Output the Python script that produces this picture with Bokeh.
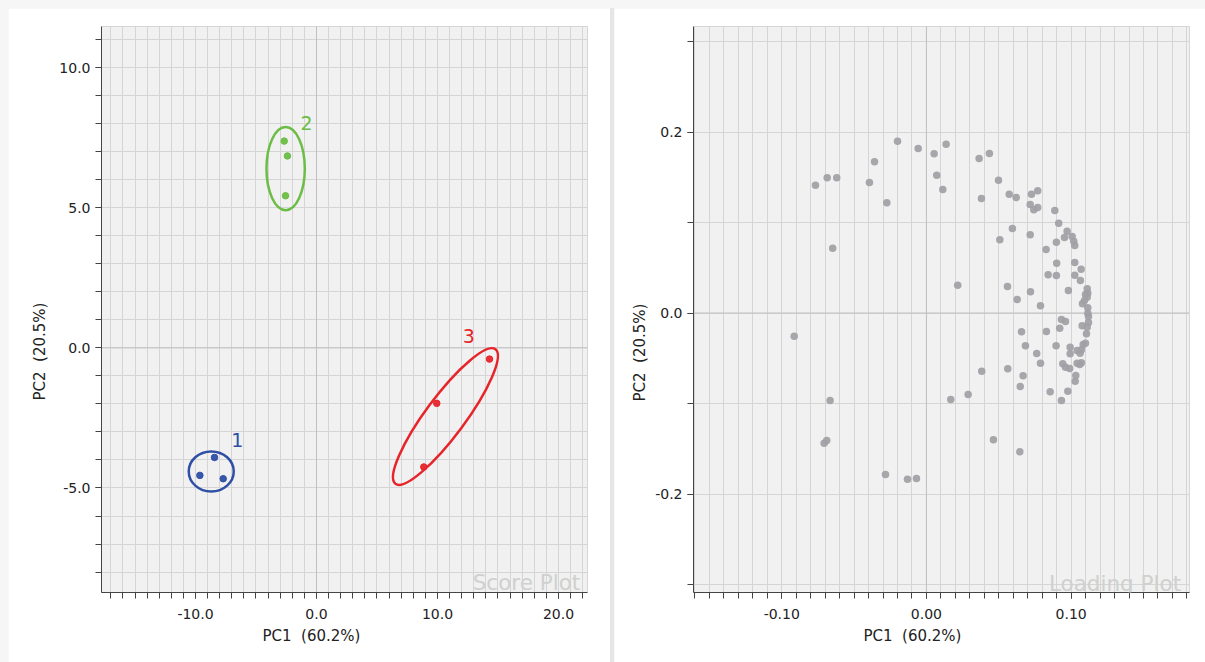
import numpy as np
from bokeh.plotting import figure
from bokeh.layouts import row
from bokeh.models import (Range1d, SingleIntervalTicker, PrintfTickFormatter,
                          Span, Label, Div, Title)
from bokeh.core.properties import value
from bokeh.embed import file_html
from bokeh.resources import INLINE

FONT = "DejaVu Sans"

# ---------------- Score plot data ----------------
g1_x = [-8.43, -9.64, -7.71]
g1_y = [-3.91, -4.55, -4.67]
g2_x = [-2.67, -2.40, -2.56]
g2_y = [7.38, 6.85, 5.43]
g3_x = [14.30, 9.94, 8.87]
g3_y = [-0.40, -1.98, -4.25]
group_names = ["1", "2", "3"]
group_colors = ["#2f4fa6", "#6cbd45", "#e8242b"]
# confidence ellipses: center, width, height, angle(rad)
ell_cx = [-8.70, -2.55, 10.66]
ell_cy = [-4.41, 6.40, -2.45]
ell_w = [3.72, 3.17, 13.86]
ell_h = [1.43, 2.97, 1.40]
ell_a = [0.0, 0.0, 0.932]
lab_x = [-6.55, -0.83, 12.59]
lab_y = [-3.28, 8.04, 0.43]

# ---------------- Loading plot data ----------------
load_x = [-0.0767, -0.0686, -0.0620, -0.0394, -0.0359, -0.0274, -0.0200, -0.0057,
          0.0053, 0.0136, 0.0071, 0.0113, -0.0648, 0.0216, 0.0364, 0.0435,
          0.0498, 0.0380, 0.0572, 0.0620, 0.0726, 0.0769, 0.0717, 0.0742,
          0.0769, 0.0887, 0.0914, 0.0594, 0.0717, 0.0507, 0.0972, 0.0954,
          0.1007, 0.1018, 0.1025, 0.0898, 0.0827, 0.1025, 0.0900, 0.1069,
          0.0841, 0.0898, 0.1025, 0.1064, 0.0560, 0.0981, 0.0719, 0.0627,
          0.0788, 0.1111, 0.1115, 0.1099, 0.1111, 0.1078, 0.1115, 0.1115,
          0.1120, 0.0933, 0.0961, 0.1076, 0.0921, 0.1111, 0.1106, 0.0657,
          0.0829, 0.0684, 0.0896, 0.1041, 0.1071, 0.1083, 0.1099, 0.1062,
          0.0993, 0.0993, 0.0762, 0.0788, 0.0942, 0.0961, 0.1041, 0.1071,
          0.1059, 0.0990, 0.0562, 0.0382, 0.1032, 0.0668, 0.1028, 0.0648,
          0.0977, 0.0855, 0.0288, 0.0933, -0.0914, -0.0666, -0.0707, -0.0689,
          -0.0283, -0.0131, -0.0069, 0.0168, 0.0463, 0.0645, 0.1092, 0.1120]
load_y = [0.1412, 0.1494, 0.1494, 0.1442, 0.1671, 0.1218, 0.1898, 0.1818,
          0.1759, 0.1865, 0.1523, 0.1365, 0.0716, 0.0307, 0.1707, 0.1762,
          0.1467, 0.1265, 0.1313, 0.1276, 0.1313, 0.1350, 0.1199, 0.1140,
          0.1166, 0.1133, 0.0992, 0.0934, 0.0864, 0.0809, 0.0904, 0.0834,
          0.0845, 0.0793, 0.0746, 0.0782, 0.0702, 0.0558, 0.0550, 0.0484,
          0.0422, 0.0414, 0.0418, 0.0359, 0.0293, 0.0249, 0.0234, 0.0149,
          0.0080, 0.0267, 0.0219, 0.0204, 0.0175, 0.0102, 0.0057, -0.0002,
          -0.0039, -0.0072, -0.0094, -0.0141, -0.0168, -0.0157, -0.0230, -0.0208,
          -0.0204, -0.0362, -0.0362, -0.0414, -0.0407, -0.0348, -0.0334, -0.0444,
          -0.0378, -0.0451, -0.0448, -0.0555, -0.0561, -0.0599, -0.0555, -0.0550,
          -0.0569, -0.0613, -0.0617, -0.0643, -0.0691, -0.0694, -0.0754, -0.0812,
          -0.0864, -0.0871, -0.0901, -0.0967, -0.0256, -0.0967, -0.1439, -0.1409,
          -0.1785, -0.1836, -0.1829, -0.0956, -0.1401, -0.1534, 0.0138, -0.0105]

x_label = "PC1\u00a0\u00a0(60.2%)"
y_label = "PC2\u00a0\u00a0(20.5%)"

GRID = "#d4d5d4"
ZERO = "#bfc0bf"
AX = "#444444"
TXT = "#222222"


def style(p):
    p.background_fill_color = "#f0f1f0"
    p.border_fill_color = "white"
    p.outline_line_color = "#d6d6d6"
    for ax in (p.xaxis[0], p.yaxis[0]):
        ax.axis_line_color = AX
        ax.axis_line_width = 1
        ax.major_tick_line_color = AX
        ax.minor_tick_line_color = AX
        ax.major_tick_in = 0
        ax.major_tick_out = 6
        ax.minor_tick_in = 0
        ax.minor_tick_out = 6
        ax.major_label_text_font = FONT
        ax.major_label_text_font_size = "14px"
        ax.major_label_text_color = TXT
        ax.major_label_standoff = 5
    p.xaxis[0].major_label_standoff = 10
    p.xgrid.grid_line_color = GRID
    p.ygrid.grid_line_color = GRID
    p.add_layout(Span(location=0, dimension="height", line_color=ZERO, line_width=1, level="underlay"))
    p.add_layout(Span(location=0, dimension="width", line_color=ZERO, line_width=1, level="underlay"))


def axis_titles(p, xoff, yoff, ystand):
    # axis titles are centred on the whole panel, not on the plot frame
    p.add_layout(Title(text=x_label, align="left", offset=xoff, standoff=7,
                       text_font=FONT, text_font_size="15px", text_font_style="normal",
                       text_color=TXT), "below")
    p.add_layout(Title(text=y_label, align="left", offset=yoff, standoff=ystand,
                       text_font=FONT, text_font_size="15px", text_font_style="normal",
                       text_color=TXT), "left")


# ---------------- Left: Score plot ----------------
p1 = figure(width=602, height=654, output_backend="svg", toolbar_location=None,
            x_range=Range1d(-17.77, 22.40), y_range=Range1d(-8.73, 11.47),
            min_border_left=93, min_border_right=23, min_border_top=18, min_border_bottom=69)
p1.margin = (8, 0, 0, 8)
style(p1)
p1.xaxis[0].ticker = SingleIntervalTicker(interval=10, num_minor_ticks=10)
p1.yaxis[0].ticker = SingleIntervalTicker(interval=5, num_minor_ticks=5)
p1.xaxis[0].formatter = PrintfTickFormatter(format="%.1f")
p1.yaxis[0].formatter = PrintfTickFormatter(format="%.1f")
p1.xgrid.ticker = SingleIntervalTicker(interval=1)
p1.ygrid.ticker = SingleIntervalTicker(interval=1)
axis_titles(p1, 161, 192, 16)

p1.add_layout(Label(x=21.8, y=-8.375, text="Score Plot", text_align="right",
                    text_baseline="alphabetic", text_font=FONT, text_font_size="21.5px",
                    text_color="#cfd0cf"))

for gx, gy, col, cx, cy, w, h, a, lx, ly, nm in zip(
        [g1_x, g2_x, g3_x], [g1_y, g2_y, g3_y], group_colors, ell_cx, ell_cy,
        ell_w, ell_h, ell_a, lab_x, lab_y, group_names):
    p1.ellipse(x=[cx], y=[cy], width=[w], height=[h], angle=[a],
               fill_alpha=0, line_color=col, line_width=2.5)
    p1.scatter(gx, gy, size=6.5, fill_color=col, line_color=col, fill_alpha=0.95)
    p1.text(x=[lx], y=[ly], text=[nm], text_color=col, text_font=value(FONT),
            text_font_size="19px", text_align="center", text_baseline="middle")

# ---------------- Right: Loading plot ----------------
p2 = figure(width=591, height=654, output_backend="svg", toolbar_location=None,
            x_range=Range1d(-0.1610, 0.1818), y_range=Range1d(-0.3088, 0.3166),
            min_border_left=79, min_border_right=16, min_border_top=18, min_border_bottom=70)
p2.margin = (8, 0, 0, 0)
style(p2)
p2.xaxis[0].ticker = SingleIntervalTicker(interval=0.1, num_minor_ticks=10)
p2.yaxis[0].ticker = SingleIntervalTicker(interval=0.2, num_minor_ticks=2)
p2.xaxis[0].formatter = PrintfTickFormatter(format="%.2f")
p2.yaxis[0].formatter = PrintfTickFormatter(format="%.1f")
p2.xgrid.ticker = SingleIntervalTicker(interval=0.01)
p2.ygrid.ticker = SingleIntervalTicker(interval=0.1)
axis_titles(p2, 170, 191, 8)

p2.add_layout(Label(x=0.176, y=-0.2989, text="Loading Plot", text_align="right",
                    text_baseline="alphabetic", text_font=FONT, text_font_size="21.5px",
                    text_color="#cfd0cf"))
p2.scatter(load_x, load_y, size=7.5, fill_color="#a0a0a5", line_color=None, fill_alpha=0.92)

sep = Div(width=4, height=654, margin=(8, 0, 0, 0),
          styles={"background-color": "#e6e6e6"})

layout = row(p1, sep, p2, styles={"background-color": "#f6f6f6"})

open("out.html", "w").write(file_html(layout, INLINE))
